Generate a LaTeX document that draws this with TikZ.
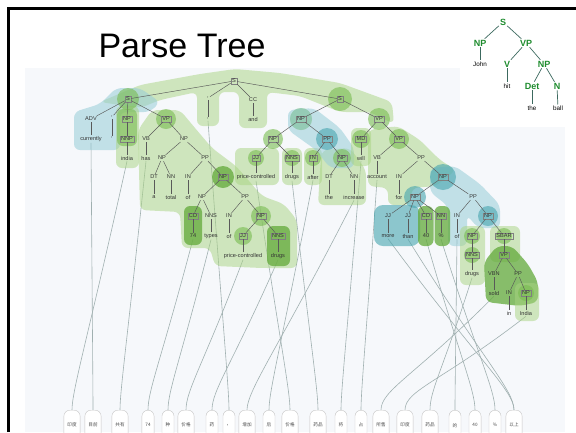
\documentclass[tikz,border=0pt]{standalone}
\usepackage{fontspec}
\setmainfont{Liberation Sans}
\setsansfont{Liberation Sans}
\newfontfamily\cjk{Noto Sans CJK SC}
\usetikzlibrary{calc}
\pgfdeclarelayer{back}
\pgfdeclarelayer{mid}
\pgfsetlayers{back,mid,main}
\definecolor{panel}{RGB}{246,248,251}
\definecolor{ga}{RGB}{168,212,128}
\definecolor{gb}{RGB}{120,188,80}
\definecolor{gc}{RGB}{98,170,58}
\definecolor{ba}{RGB}{150,205,215}
\definecolor{ta}{RGB}{70,165,175}
\definecolor{algn}{RGB}{160,176,176}
\definecolor{igreen}{RGB}{30,140,46}
\definecolor{iedge}{RGB}{60,105,95}
\newcommand\myalign[2]{\draw[al] (#1.south) .. controls ($(#1.south)!0.7!(#2.north)$) and ($(#2.north)+(0,-20)$) .. (#2.north);}
\begin{document}
\begin{tikzpicture}[x=1pt,y=-1pt,
  lab/.style={font=\fontsize{5.6}{6}\selectfont, text=black!80, inner sep=1pt},
  bx/.style={lab, draw=black!50, line width=0.35pt, inner sep=1.2pt},
  wd/.style={lab},
  ed/.style={draw=black!65, line width=0.45pt},
  al/.style={draw=algn, line width=0.6pt},
  tk/.style={draw=black!22, fill=white, rounded corners=6pt, anchor=north, minimum height=30pt, minimum width=12pt, inner xsep=3.5pt, font=\cjk\fontsize{4.6}{5}\selectfont, text=black!70},
  l1/.style={fill=ga, fill opacity=0.5, rounded corners=6pt},
  l2/.style={fill=gb, fill opacity=0.6, rounded corners=6pt},
  l3/.style={fill=gc, fill opacity=0.75, rounded corners=6pt},
  lb/.style={fill=ba, fill opacity=0.55, rounded corners=6pt},
  lt/.style={fill=ta, fill opacity=0.6, rounded corners=6pt},
  ilab/.style={font=\bfseries\fontsize{9}{9}\selectfont, text=igreen, inner sep=1pt},
  iwd/.style={font=\fontsize{6.3}{6.3}\selectfont, text=black, inner sep=1pt},
  ied/.style={draw=iedge, line width=0.7pt}]
\useasboundingbox (0,0) rectangle (576,432);
% panel
\begin{pgfonlayer}{back}
\fill[panel] (25,68) rectangle (565,432);
\fill[white] (460,11) rectangle (576,127);
\end{pgfonlayer}
% title
\node[font=\fontsize{34}{34}\selectfont, anchor=base, inner sep=0pt] (title) at (182,57) {Parse Tree};
% ---------- Chinese tokens ----------
\foreach \n/\x/\t in {t1/72/印度, t2/93/目前, t3/120/共有, t4/148/74, t5/168/种, t6/186/价格, t7/212/药, t8/229/，, t9/247/增加, t10/269/后, t11/290/价格, t12/318/药品, t13/341/将, t14/361/占, t15/381/所售, t16/405/印度, t17/430/药品, t18/455/的, t19/475/40, t20/495/\%, t21/514/以上}
  \node[tk] (\n) at (\x,410) {\t};
% ---------- blobs ----------
\fill[l1] (100,102) -- (140,85) -- (200,74) -- (235,69) -- (280,73) -- (340,83) -- (392,102) -- (394,124) -- (370,112) -- (340,112) -- (300,96) -- (267,92) -- (267,128) -- (239,128) -- (239,92) -- (219,92) -- (219,126) -- (197,126) -- (197,92) -- (160,100) -- (140,108) -- cycle;
\fill[lb] (74,112) -- (100,104) -- (116,88) -- (140,88) -- (160,102) -- (150,112) -- (120,112) -- (120,150) -- (74,150) -- cycle;
\fill[l1] (116,106) rectangle (139,168);
\fill[l2] (117,109) rectangle (137,146);
\fill[l2] (128,99) circle (11);
\fill[l1] (138,130) -- (152,110) -- (180,110) -- (195,128) -- (212,148) -- (236,166) -- (262,196) -- (284,204) -- (297,220) -- (297,268) -- (262,268) -- (215,266) -- (210,248) -- (182,248) -- (180,212) -- (140,210) -- cycle;
\fill[l2] (166,119) circle (10);
\fill[l3] (223,177) circle (11);
\fill[l3] (184,206) rectangle (202,245);
\fill[l3] (267,226) rectangle (290,266);
\fill[l2] (261,216) circle (10);
\fill[l2] (243,236) circle (9);
% S2 part
\fill[l2] (340,99) circle (12);
\fill[l1] (235,148) rectangle (279,185);
\fill[l1] (282,148) rectangle (302,185);
\fill[l1] (304,148) rectangle (322,185);
\fill[l1] (322,150) -- (350,148) -- (366,170) -- (366,205) -- (318,205) -- (320,170) -- cycle;
\fill[lb] (288,110) -- (314,108) -- (340,128) -- (354,148) -- (354,168) -- (330,168) -- (316,150) -- (288,130) -- cycle;
\fill[l2] (273,139) circle (10);
\fill[l2] (256,158) circle (8);
\fill[l2] (292,158) circle (8);
\fill[l2] (313,158) circle (8);
\fill[l2] (342,158) circle (9);
\fill[lt] (327,139) circle (11);
\fill[l2] (301,119) circle (11);
\fill[lb] (301,119) circle (11);
% VP part
\fill[l1] (351,128) rectangle (371,166);
\fill[l2] (379,119) circle (11);
\fill[l2] (361,139) circle (9);
\fill[l1] (368,130) -- (398,126) -- (420,140) -- (440,160) -- (456,170) -- (436,186) -- (412,188) -- (410,205) -- (388,205) -- (388,188) -- (368,186) -- cycle;
\fill[l2] (399,139) circle (10);
\fill[lb] (430,168) -- (455,166) -- (480,184) -- (500,205) -- (500,228) -- (478,228) -- (467,215) -- (467,246) -- (448,246) -- (448,206) -- (430,192) -- cycle;
\fill[lt] (443,177) circle (13);
\fill[lt, rounded corners=9pt] (374,205) rectangle (420,246);
\fill[lt] (415,197) circle (11);
\fill[l3] (418,206) rectangle (433.5,246);
\fill[l3] (434.5,206) rectangle (450,246);
\fill[lt] (488,216) circle (10);
\fill[l1] (460,226) rectangle (485,285);
\fill[l2] (472,236) circle (8);
\fill[l2] (472,255) circle (8);
\fill[l1] (490,226) rectangle (520,262);
\fill[l2] (504,236) circle (8);
\fill[l3] (484,262) -- (497,246) -- (512,246) -- (528,264) -- (538,282) -- (538,302) -- (520,306) -- (486,302) -- cycle;
\fill[l1] (515,283) rectangle (539,321);
\fill[l2] (526,293) circle (8);
% ---------- tree nodes ----------
\node[bx] (top) at (234,81) {S};
\node[bx] (s1) at (128,99) {S};
\node[lab] (adv) at (91,119) {ADV};
\node[wd] (w_currently) at (91,139) {currently};
\node[lab] (c1) at (112,117) {,};
\node[wd] (w_c1) at (112,138) {,};
\node[bx] (np1) at (127,119) {NP};
\node[bx] (nnp1) at (127,139) {NNP};
\node[wd] (w_india1) at (127,158) {india};
\node[bx] (vp1) at (166,119) {VP};
\node[lab] (vb1) at (146,139) {VB};
\node[wd] (w_has) at (146,158) {has};
\node[lab] (np2) at (184,139) {NP};
\node[lab] (np3) at (162,158) {NP};
\node[lab] (dt1) at (154,177) {DT};
\node[wd] (w_a) at (154,197) {a};
\node[lab] (nn1) at (171,177) {NN};
\node[wd] (w_total) at (171,197) {total};
\node[lab] (pp1) at (205,158) {PP};
\node[lab] (in1) at (188,177) {IN};
\node[wd] (w_of1) at (188,197) {of};
\node[bx] (np4) at (223,177) {NP};
\node[lab] (np5) at (202,197) {NP};
\node[bx] (cd1) at (193,216) {CD};
\node[wd] (w_74) at (193,236) {74};
\node[lab] (nns1) at (211,216) {NNS};
\node[wd] (w_types) at (211,236) {types};
\node[lab] (pp2) at (245,197) {PP};
\node[lab] (in2) at (229,216) {IN};
\node[wd] (w_of2) at (229,236) {of};
\node[bx] (np6) at (261,216) {NP};
\node[bx] (jj1) at (243,236) {JJ};
\node[wd] (w_pc1) at (243,256) {price-controlled};
\node[bx] (nns2) at (278,236) {NNS};
\node[wd] (w_drugs1) at (278,256) {drugs};
\node[lab] (c2) at (208,98) {,};
\node[wd] (w_c2) at (208,119) {,};
\node[lab] (cc) at (253,100) {CC};
\node[wd] (w_and) at (253,119) {and};
\node[bx] (s2) at (340,99) {S};
\node[bx] (np7) at (301,119) {NP};
\node[bx] (np8) at (273,139) {NP};
\node[bx] (jj2) at (256,158) {JJ};
\node[wd] (w_pc2) at (256,177) {price-controlled};
\node[bx] (nns3) at (292,158) {NNS};
\node[wd] (w_drugs2) at (292,177) {drugs};
\node[bx] (pp3) at (327,139) {PP};
\node[bx] (in3) at (313,158) {IN};
\node[wd] (w_after) at (313,177) {after};
\node[bx] (np9) at (342,158) {NP};
\node[lab] (dt2) at (329,177) {DT};
\node[wd] (w_the) at (329,197) {the};
\node[lab] (nn2) at (354,177) {NN};
\node[wd] (w_increase) at (354,197) {increase};
\node[bx] (vp2) at (379,119) {VP};
\node[bx] (md) at (361,139) {MD};
\node[wd] (w_will) at (361,158) {will};
\node[bx] (vp3) at (399,139) {VP};
\node[lab] (vb2) at (377,158) {VB};
\node[wd] (w_account) at (377,177) {account};
\node[lab] (pp4) at (421,158) {PP};
\node[lab] (in4) at (399,177) {IN};
\node[wd] (w_for) at (399,197) {for};
\node[bx] (np10) at (443,177) {NP};
\node[bx] (np11) at (415,197) {NP};
\node[lab] (jj3) at (388,216) {JJ};
\node[wd] (w_more) at (388,236) {more};
\node[lab] (jj4) at (408,216) {JJ};
\node[wd] (w_than) at (408,236) {than};
\node[bx] (cd2) at (426,216) {CD};
\node[wd] (w_40) at (426,236) {40};
\node[bx] (nn3) at (441,216) {NN};
\node[wd] (w_pct) at (441,236) {\%};
\node[lab] (pp5) at (473,197) {PP};
\node[lab] (in5) at (457,216) {IN};
\node[wd] (w_of3) at (457,236) {of};
\node[bx] (np12) at (488,216) {NP};
\node[bx] (np13) at (472,236) {NP};
\node[bx] (nns4) at (472,255) {NNS};
\node[wd] (w_drugs3) at (472,274) {drugs};
\node[bx] (sbar) at (504,236) {SBAR};
\node[bx] (vp4) at (504,255) {VP};
\node[lab] (vbn) at (494,274) {VBN};
\node[wd] (w_sold) at (494,293) {sold};
\node[lab] (pp6) at (518,274) {PP};
\node[lab] (in6) at (509,293) {IN};
\node[wd] (w_in) at (509,313) {in};
\node[bx] (np14) at (526,293) {NP};
\node[wd] (w_india2) at (526,313) {India};
% ---------- tree edges ----------
\foreach \a/\b in {top/s1, top/c2, top/cc, top/s2,
  s1/adv, s1/c1, s1/np1, s1/vp1, adv/w_currently, c1/w_c1, np1/nnp1, nnp1/w_india1,
  vp1/vb1, vp1/np2, vb1/w_has, np2/np3, np2/pp1, np3/dt1, np3/nn1, dt1/w_a, nn1/w_total,
  pp1/in1, pp1/np4, in1/w_of1, np4/np5, np4/pp2, np5/cd1, np5/nns1, cd1/w_74, nns1/w_types,
  pp2/in2, pp2/np6, in2/w_of2, np6/jj1, np6/nns2, jj1/w_pc1, nns2/w_drugs1,
  c2/w_c2, cc/w_and, s2/np7, s2/vp2, np7/np8, np7/pp3, np8/jj2, np8/nns3, jj2/w_pc2, nns3/w_drugs2,
  pp3/in3, pp3/np9, in3/w_after, np9/dt2, np9/nn2, dt2/w_the, nn2/w_increase,
  vp2/md, vp2/vp3, md/w_will, vp3/vb2, vp3/pp4, vb2/w_account, pp4/in4, pp4/np10, in4/w_for,
  np10/np11, np10/pp5, np11/jj3, np11/jj4, np11/cd2, np11/nn3, jj3/w_more, jj4/w_than, cd2/w_40, nn3/w_pct,
  pp5/in5, pp5/np12, in5/w_of3, np12/np13, np12/sbar, np13/nns4, nns4/w_drugs3, sbar/vp4,
  vp4/vbn, vp4/pp6, vbn/w_sold, pp6/in6, pp6/np14, in6/w_in, np14/w_india2}
  \draw[ed] (\a) -- (\b);
% ---------- alignment links (under the blobs) ----------
\begin{pgfonlayer}{mid}
\myalign{w_india1}{t1}
\myalign{w_currently}{t2}
\myalign{w_has}{t3}
\myalign{w_74}{t4}
\myalign{w_types}{t5}
\myalign{w_pc1}{t6}
\myalign{w_drugs1}{t7}
\myalign{w_c2}{t8}
\myalign{w_increase}{t9}
\myalign{w_after}{t10}
\myalign{w_pc2}{t11}
\myalign{w_drugs2}{t12}
\myalign{w_will}{t13}
\myalign{w_account}{t14}
\myalign{w_sold}{t15}
\myalign{w_india2}{t16}
\myalign{w_drugs3}{t17}
\myalign{w_of3}{t18}
\myalign{w_40}{t19}
\myalign{w_pct}{t20}
\myalign{w_more}{t21}
\myalign{w_than}{t21}
\end{pgfonlayer}
% ---------- inset tree ----------
\node[ilab] (iS) at (503,22) {S};
\node[ilab] (iNP1) at (480,43) {NP};
\node[ilab] (iVP) at (526,43) {VP};
\node[iwd] (iJohn) at (480,64) {John};
\node[ilab] (iV) at (507,64) {V};
\node[ilab] (iNP2) at (544,64) {NP};
\node[iwd] (ihit) at (507,86) {hit};
\node[ilab] (iDet) at (532,86) {Det};
\node[ilab] (iN) at (557,86) {N};
\node[iwd] (ithe) at (532,108) {the};
\node[iwd] (iball) at (558,108) {ball};
\foreach \a/\b in {iS/iNP1, iS/iVP, iNP1/iJohn, iVP/iV, iVP/iNP2, iV/ihit, iNP2/iDet, iNP2/iN, iDet/ithe, iN/iball}
  \draw[ied] (\a) -- (\b);
% frame
\draw[line width=2.7pt] (8.5,432) -- (8.5,8.5) -- (576,8.5);
\end{tikzpicture}
\end{document}
